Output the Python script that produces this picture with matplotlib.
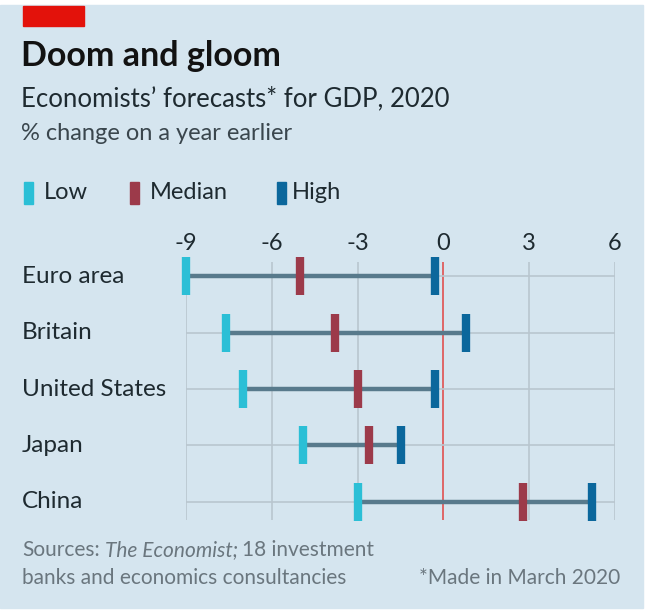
import matplotlib.pyplot as plt
from matplotlib.patches import Rectangle
from matplotlib.transforms import blended_transform_factory

countries = ['Euro area', 'Britain', 'United States', 'Japan', 'China']
low = [-9.0, -7.6, -7.0, -4.9, -3.0]
median = [-5.0, -3.8, -3.0, -2.6, 2.8]
high = [-0.3, 0.8, -0.3, -1.5, 5.2]
xticks = [-9, -6, -3, 0, 3, 6]

BG = '#d5e5ef'
C_LOW = '#2bbfd6'
C_MED = '#9c3a4a'
C_HIGH = '#0b679c'
C_LINE = '#587a8c'
GRID = '#b9c6cf'
TXT = '#1e2a30'
GREY = '#6a767e'

plt.rcParams['font.family'] = ['Lato', 'DejaVu Sans']

W, H = 650, 614
fig = plt.figure(figsize=(W / 100, H / 100), dpi=100)
fig.patch.set_facecolor('white')

def fx(px):
    return px / W

def fy(py):
    return 1 - py / H

# background panel + red tag
fig.patches.append(Rectangle((0, fy(608)), fx(643), fy(5) - fy(608),
                             transform=fig.transFigure, color=BG, zorder=-5))
fig.patches.append(Rectangle((fx(23), fy(26)), fx(61), fy(6) - fy(26),
                             transform=fig.transFigure, color='#e3120b', zorder=1))

fig.text(fx(21), fy(56), 'Doom and gloom', fontsize=24.5, fontweight='bold',
         color='#121212', va='center')
fig.text(fx(21), fy(99), 'Economists\u2019 forecasts* for GDP, 2020', fontsize=18.5,
         color=TXT, va='center')
fig.text(fx(21), fy(133), '% change on a year earlier', fontsize=17,
         color='#3a464d', va='center')

# legend
leg = [('Low', C_LOW, 24, 44), ('Median', C_MED, 130, 150), ('High', C_HIGH, 277, 292)]
for name, col, px, tx in leg:
    fig.patches.append(Rectangle((fx(px), fy(204)), fx(9), fy(182) - fy(204),
                                 transform=fig.transFigure, color=col, zorder=2))
    fig.text(fx(tx), fy(193), name, fontsize=17, color=TXT, va='center')

ax = fig.add_axes([fx(186), fy(520), fx(615) - fx(186), fy(262) - fy(520)])
ax.set_zorder(3)
ax.set_facecolor('none')
ax.set_xlim(-9, 6)
rows = list(range(len(countries)))
ax.set_ylim(4.32, -0.25)
for s in ax.spines.values():
    s.set_visible(False)

ax.set_xticks(xticks)
ax.set_xticklabels([str(t) for t in xticks])
ax.xaxis.tick_top()
ax.tick_params(axis='x', length=0, labelsize=17, colors=TXT, pad=6)
ax.set_yticks([])

for t in xticks:
    if t != 0:
        ax.axvline(t, color=GRID, lw=1.2, zorder=1)
ax.axvline(0, color='#e05c5c', lw=1.3, zorder=1)
for r in rows:
    ax.axhline(r, color=GRID, lw=1.2, zorder=1)

ax.hlines(rows, low, high, color=C_LINE, lw=3.2, zorder=2)
mk = dict(marker='|', markersize=28, markeredgewidth=6, linestyle='none',
          zorder=3, clip_on=False)
ax.plot(low, rows, color=C_LOW, **mk)
ax.plot(median, rows, color=C_MED, **mk)
ax.plot(high, rows, color=C_HIGH, **mk)

tr = blended_transform_factory(fig.transFigure, ax.transData)
for r, name in zip(rows, countries):
    ax.text(fx(22), r, name, transform=tr, fontsize=17.5, color=TXT,
            va='center', ha='left')

# footer
src = fig.text(fx(22), fy(550), 'Sources:', fontsize=15, color=GREY, va='center')
fig.canvas.draw()
bb = src.get_window_extent()
x1 = bb.x1 / W + fx(5)
it = fig.text(x1, fy(550), 'The Economist;', fontsize=15, color=GREY, va='center',
              style='italic')
fig.canvas.draw()
bb2 = it.get_window_extent()
x2 = bb2.x1 / W + fx(4)
fig.text(x2, fy(550), '18 investment', fontsize=15, color=GREY, va='center')
fig.text(fx(22), fy(578), 'banks and economics consultancies', fontsize=15,
         color=GREY, va='center')
fig.text(fx(620), fy(578), '*Made in March 2020', fontsize=15, color=GREY,
         va='center', ha='right')

fig.savefig('out.png', dpi=100, facecolor=fig.get_facecolor())
